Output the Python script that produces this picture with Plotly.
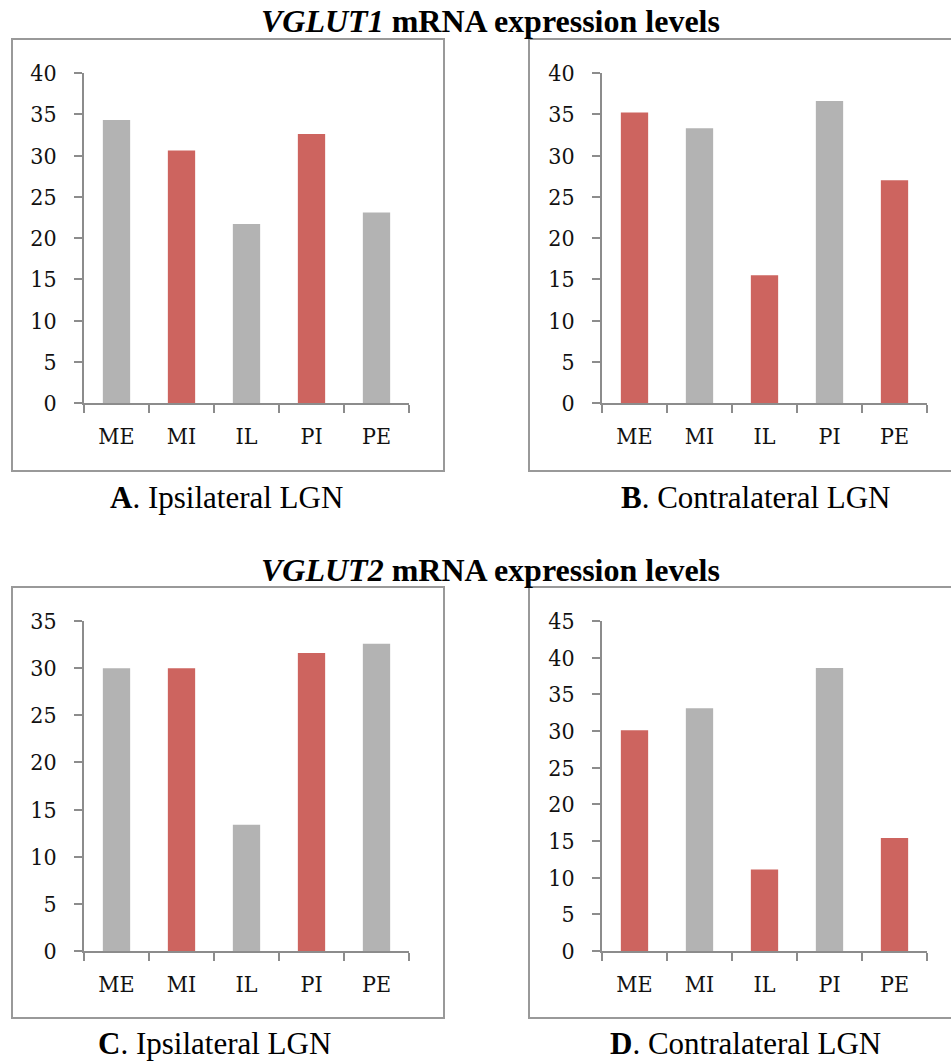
import plotly.graph_objects as go

categories = ["ME", "MI", "IL", "PI", "PE"]
vglut1_ipsi = [34.3, 30.6, 21.7, 32.6, 23.1]
vglut1_contra = [35.2, 33.3, 15.5, 36.6, 27.0]
vglut2_ipsi = [30.0, 30.0, 13.4, 31.6, 32.6]
vglut2_contra = [30.1, 33.1, 11.1, 38.6, 15.4]

GRAY = "#b3b3b3"
RED = "#cd645f"
colors_ipsi = [GRAY, RED, GRAY, RED, GRAY]
colors_contra = [RED, GRAY, RED, GRAY, RED]

W, H = 951, 1062

def px_x(a, b):
    return [a / W, b / W]

def px_y(top, bottom):
    return [1 - bottom / H, 1 - top / H]

panels = [
    dict(vals=vglut1_ipsi, cols=colors_ipsi, xd=px_x(84, 409), yd=px_y(73, 403), ymax=40),
    dict(vals=vglut1_contra, cols=colors_contra, xd=px_x(602, 927), yd=px_y(73, 403), ymax=40),
    dict(vals=vglut2_ipsi, cols=colors_ipsi, xd=px_x(84, 409), yd=px_y(621, 951), ymax=35),
    dict(vals=vglut2_contra, cols=colors_contra, xd=px_x(602, 927), yd=px_y(621, 951), ymax=45),
]

fig = go.Figure()
tickfont = dict(family="DejaVu Serif Condensed, DejaVu Serif, serif", size=23, color="#111")
for i, p in enumerate(panels, start=1):
    sx = "" if i == 1 else str(i)
    fig.add_trace(go.Bar(
        x=categories, y=p["vals"], marker=dict(color=p["cols"], line=dict(width=0)),
        width=0.42, xaxis="x" + sx, yaxis="y" + sx, showlegend=False, hoverinfo="x+y",
    ))
    fig.layout["xaxis" + sx] = dict(
        domain=p["xd"], anchor="y" + sx, type="category", range=[-0.5, 4.5],
        showline=True, linecolor="#8c8c8c", linewidth=1.5,
        ticks="outside", tickson="boundaries", ticklen=8, tickcolor="#8c8c8c", tickwidth=1.5,
        showgrid=False, zeroline=False, tickfont=tickfont, ticklabelstandoff=12, fixedrange=True,
    )
    fig.layout["yaxis" + sx] = dict(
        domain=p["yd"], anchor="x" + sx, range=[0, p["ymax"]], dtick=5,
        showline=True, linecolor="#8c8c8c", linewidth=1.5,
        ticks="outside", ticklen=8, tickcolor="#8c8c8c", tickwidth=1.5,
        showgrid=False, zeroline=False, tickfont=tickfont, ticklabelstandoff=13, fixedrange=True,
    )

boxes = [(12, 39, 444, 471), (529, 39, 960, 471), (12, 587, 444, 1018), (529, 587, 960, 1018)]
shapes = []
for x0, y0, x1, y1 in boxes:
    shapes.append(dict(type="rect", xref="paper", yref="paper",
                       x0=x0 / W, x1=x1 / W, y0=1 - y1 / H, y1=1 - y0 / H,
                       line=dict(color="#999999", width=2), fillcolor="rgba(0,0,0,0)", layer="below"))

title_font = dict(family="Liberation Serif", size=32, color="#000")
sub_font = dict(family="Liberation Serif", size=31, color="#000")
annots = [
    ("<b><i>VGLUT1</i> mRNA expression levels</b>", 490, 21, title_font),
    ("<b><i>VGLUT2</i> mRNA expression levels</b>", 490, 570, title_font),
    ("<b>A</b>. Ipsilateral LGN", 226, 497, sub_font),
    ("<b>B</b>. Contralateral LGN", 755, 497, sub_font),
    ("<b>C</b>. Ipsilateral LGN", 214, 1043, sub_font),
    ("<b>D</b>. Contralateral LGN", 745, 1043, sub_font),
]
annotations = [dict(text=t, x=x / W, y=1 - y / H, xref="paper", yref="paper",
                    xanchor="center", yanchor="middle", showarrow=False, font=f)
               for t, x, y, f in annots]

fig.update_layout(
    width=W, height=H, margin=dict(l=0, r=0, t=0, b=0, autoexpand=False),
    paper_bgcolor="white", plot_bgcolor="white",
    shapes=shapes, annotations=annotations, bargap=0.58,
)
fig.write_html(
    "out.html",
    config={"displayModeBar": False},
    post_script="document.body.style.margin='0';document.body.style.overflow='hidden';",
)
